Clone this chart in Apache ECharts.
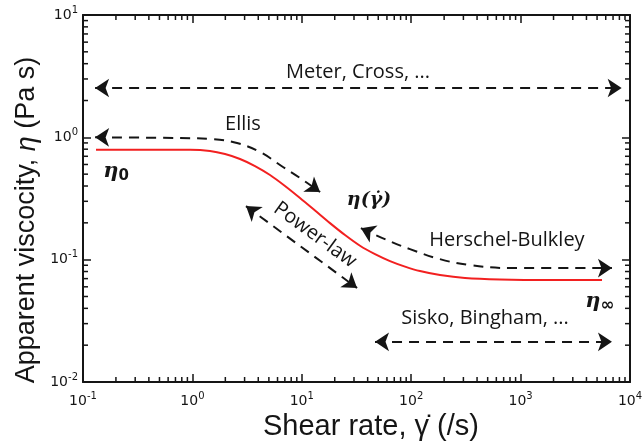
<!DOCTYPE html>
<html>
<head>
<meta charset="utf-8">
<script src="https://cdn.jsdelivr.net/npm/echarts@6/dist/echarts.min.js"></script>
<style>
  html, body { margin: 0; padding: 0; background: #fff; }
  #chart { width: 644px; height: 445px; }
</style>
</head>
<body>
<div id="chart"></div>
<script>
// Flow curve (red)
const shearRate = [0.1315, 0.41, 0.951, 1.448, 1.986, 2.724, 3.735, 5.122, 7.022, 9.627, 13.21, 18.10, 24.83,
  34.04, 46.68, 64.01, 87.78, 120.3, 183.4, 310.3, 648.0, 1857, 5548];
const viscosity = [0.79, 0.79, 0.79, 0.773, 0.730, 0.665, 0.582, 0.492, 0.400, 0.319, 0.252, 0.199, 0.159,
  0.130, 0.111, 0.0974, 0.0878, 0.0807, 0.0748, 0.0707, 0.0688, 0.0681, 0.0681];

// Dashed model-range arrows
const ellisX = [0.129, 0.771, 1.54, 2.56, 4.15, 6.73, 9.63, 14.7];
const ellisY = [1.0, 0.987, 0.968, 0.898, 0.759, 0.572, 0.465, 0.357];
const hbX = [34.7, 57.5, 97.4, 183, 344, 800, 6840];
const hbY = [0.181, 0.147, 0.122, 0.101, 0.0903, 0.0854, 0.0854];
const meterX = [0.129, 8390];
const meterY = [2.53, 2.53];
const powerLawX = [3.09, 32.0];
const powerLawY = [0.274, 0.0586];
const siskoX = [46.7, 6840];
const siskoY = [0.0213, 0.0213];

// Axes
const xRange = [0.1, 10000];
const yRange = [0.01, 10];
const xExponents = ['-1', '0', '1', '2', '3', '4'];
const yExponents = ['-2', '-1', '0', '1'];
const xDecades = [0.1, 1, 10, 100, 1000];
const yDecades = [0.01, 0.1, 1];
const minorSteps = [2, 3, 4, 5, 6, 7, 8, 9];

const ink = '#151515';
const tickFont = 'DejaVu Sans';
const noteFont = '20px "Open Sans"';

const xMinor = [];
xDecades.forEach(d => minorSteps.forEach(m => xMinor.push(d * m)));
const yMinor = [];
yDecades.forEach(d => minorSteps.forEach(m => yMinor.push(d * m)));

const zip = (xs, ys) => xs.map((x, i) => [x, ys[i]]);
const ellis = zip(ellisX, ellisY);
const hb = zip(hbX, hbY);

const tickRich = {
  b: { fontFamily: tickFont, fontSize: 14, lineHeight: 20, color: ink },
  s: { fontFamily: tickFont, fontSize: 10, lineHeight: 11, verticalAlign: 'top', color: ink }
};

const logAxis = (range, position, exps, show) => ({
  type: 'log',
  logBase: 10,
  min: range[0],
  max: range[1],
  position: position,
  axisLine: { show: true, onZero: false, lineStyle: { color: ink, width: 2 } },
  axisTick: { show: true, inside: true, length: 8, lineStyle: { color: ink, width: 1.5 } },
  splitLine: { show: false },
  axisLabel: {
    show: show,
    margin: position === 'bottom' ? 9 : 5,
    formatter: (v, i) => '{b|10}{s|' + exps[i] + '}',
    rich: tickRich
  }
});

// minor ticks at 2..9 of every decade, on all four sides
const minorTicks = (dim) => (params, api) => {
  const len = 5;
  let segs;
  if (dim === 'x') {
    const v = api.value(0);
    const a = api.coord([v, yRange[0]]);
    const b = api.coord([v, yRange[1]]);
    segs = [[a[0], a[1], a[0], a[1] - len], [b[0], b[1], b[0], b[1] + len]];
  } else {
    const v = api.value(1);
    const a = api.coord([xRange[0], v]);
    const b = api.coord([xRange[1], v]);
    segs = [[a[0], a[1], a[0] + len, a[1]], [b[0], b[1], b[0] - len, b[1]]];
  }
  return {
    type: 'group',
    children: segs.map(s => ({
      type: 'line',
      shape: { x1: s[0], y1: s[1], x2: s[2], y2: s[3] },
      style: { stroke: ink, lineWidth: 1.5 }
    }))
  };
};

const dashed = { color: ink, width: 2, type: [10, 7], opacity: 1 };

const note = (x, y, text, rotation) => ({
  type: 'text', x: x, y: y, rotation: rotation || 0,
  style: { text: text, font: noteFont, fill: ink, align: 'center', verticalAlign: 'middle' }
});

const chart = echarts.init(document.getElementById('chart'));

chart.setOption({
  animation: false,
  grid: { left: 83, top: 15, right: 14, bottom: 63, containLabel: false, outerBoundsMode: 'none' },
  xAxis: [logAxis(xRange, 'bottom', xExponents, true), logAxis(xRange, 'top', xExponents, false)],
  yAxis: [logAxis(yRange, 'left', yExponents, true), logAxis(yRange, 'right', yExponents, false)],
  series: [
    {
      type: 'custom',
      renderItem: minorTicks('x'),
      clip: false,
      silent: true,
      data: xMinor.map(v => [v, yRange[0]])
    },
    {
      type: 'custom',
      renderItem: minorTicks('y'),
      clip: false,
      silent: true,
      data: yMinor.map(v => [xRange[0], v])
    },
    {
      name: 'Ellis',
      type: 'line',
      smooth: 0.4,
      symbol: 'none',
      lineStyle: dashed,
      data: ellis
    },
    {
      name: 'Herschel-Bulkley',
      type: 'line',
      smooth: 0.4,
      symbol: 'none',
      lineStyle: dashed,
      data: hb
    },
    {
      // straight double-headed arrows
      type: 'lines',
      coordinateSystem: 'cartesian2d',
      symbol: ['arrow', 'arrow'],
      symbolSize: 14,
      lineStyle: dashed,
      data: [
        { coords: zip(meterX, meterY) },
        { coords: zip(powerLawX, powerLawY) },
        { coords: zip(siskoX, siskoY) }
      ]
    },
    {
      // arrow heads at the ends of the curved arrows
      type: 'lines',
      coordinateSystem: 'cartesian2d',
      symbol: ['none', 'arrow'],
      symbolSize: 14,
      lineStyle: { color: ink, width: 0.01, opacity: 1 },
      data: [
        { coords: [ellis[1], ellis[0]] },
        { coords: [ellis[ellis.length - 2], ellis[ellis.length - 1]] },
        { coords: [hb[1], hb[0]] },
        { coords: [hb[hb.length - 2], hb[hb.length - 1]] }
      ]
    },
    {
      name: 'η(γ̇)',
      type: 'line',
      smooth: 0.3,
      symbol: 'none',
      lineStyle: { color: '#f22020', width: 2 },
      data: zip(shearRate, viscosity)
    }
  ],
  graphic: [
    {
      type: 'text', x: 27, y: 220, rotation: Math.PI / 2,
      style: { text: 'Apparent viscocity, {i|η} (Pa s)', font: '27px "Liberation Sans"', fill: ink, align: 'center', verticalAlign: 'middle',
        rich: { i: { font: 'italic 27px "Liberation Sans"', fill: ink } } }
    },
    {
      type: 'text', x: 371, y: 427,
      style: { text: 'Shear rate, γ̇ (/s)', font: '29px "Liberation Sans"', fill: ink, align: 'center', verticalAlign: 'middle' }
    },
    note(358, 72, 'Meter, Cross, ...'),
    note(243, 124, 'Ellis'),
    note(507, 240, 'Herschel-Bulkley'),
    note(485, 318, 'Sisko, Bingham, ...'),
    note(315, 235, 'Power-law', -0.63),
    { type: 'text', x: 369, y: 200, style: { text: 'η(γ̇)', font: 'bold italic 19px "DejaVu Serif"', fill: ink, align: 'center', verticalAlign: 'middle' } },
    {
      type: 'text', x: 116, y: 172,
      style: { text: '{e|η}{s|0}', align: 'center', verticalAlign: 'middle',
        rich: { e: { font: 'bold italic 21px "DejaVu Serif"', fill: ink, lineHeight: 24 },
                s: { font: 'bold 15px "DejaVu Sans"', fill: ink, lineHeight: 18, verticalAlign: 'bottom' } } }
    },
    {
      type: 'text', x: 600, y: 302,
      style: { text: '{e|η}{s|∞}', align: 'center', verticalAlign: 'middle',
        rich: { e: { font: 'bold italic 21px "DejaVu Serif"', fill: ink, lineHeight: 24 },
                s: { font: 'bold 17px "DejaVu Sans"', fill: ink, lineHeight: 18, verticalAlign: 'bottom' } } }
    }
  ]
});
</script>
</body>
</html>
